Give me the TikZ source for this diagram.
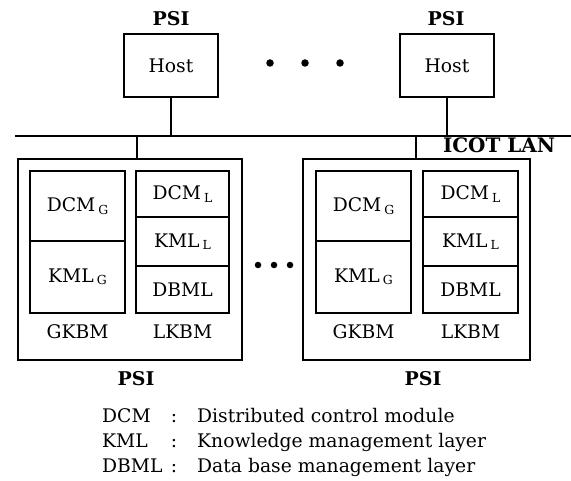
\documentclass[tikz,border=0pt]{standalone}
\usepackage{fontspec}
\setmainfont{DejaVu Serif}
\begin{document}
\begin{tikzpicture}[x=1bp,y=-1bp,
  every node/.style={font=\fontsize{18.8}{20}\selectfont, inner sep=0pt},
  ln/.style={line width=1.8bp},
  cell/.style={draw, line width=1.8bp},
  hostbox/.style={draw, line width=1.8bp, minimum width=94bp, minimum height=63bp},
  outer/.style={draw, line width=1.9bp, minimum height=201bp},
  bold/.style={font=\fontsize{19}{20}\selectfont\bfseries},
  dot/.style={circle, fill=black, minimum size=7.5bp, inner sep=0pt}]
\useasboundingbox (0,0) rectangle (571,481);
\newcommand{\subG}[1]{\kern3bp\raisebox{-2.5bp}{\fontsize{12.5}{13}\selectfont #1}}
% top hosts
\node[bold] (psi1) at (171,19) {PSI};
\node[bold] (psi2) at (446,19) {PSI};
\node[hostbox] (h1) at (171,65.5) {Host};
\node[hostbox] (h2) at (447,65.5) {Host};
\node[dot] (d1) at (270,63) {};
\node[dot] (d2) at (305,63) {};
\node[dot] (d3) at (340,63) {};
% LAN
\coordinate (lanL) at (15,136);
\coordinate (lanR) at (571,136);
\draw[ln] (lanL) -- (lanR);
\node[font=\fontsize{20}{22}\selectfont\bfseries, anchor=base] (lan) at (499,153) {ICOT LAN};
% outer PSI boxes
\node[outer, minimum width=224bp] (o1) at (130,259.5) {};
\node[outer, minimum width=227bp] (o2) at (416.5,259.5) {};
\draw[ln] (h1.south) -- (h1.south |- lanL);
\draw[ln] (h2.south) -- (h2.south |- lanL);
\coordinate (t1) at (137,136);
\coordinate (t2) at (416,136);
\draw[ln] (t1) -- (t1 |- o1.north);
\draw[ln] (t2) -- (t2 |- o2.north);
% left inner
\node[cell, minimum width=95bp, minimum height=70bp] (g1a) at (77.5,206) {DCM\subG{G}};
\node[cell, minimum width=95bp, minimum height=72bp] (g1b) at (77.5,277) {KML\subG{G}};
\node[cell, minimum width=93bp, minimum height=46bp] (l1a) at (182.5,194) {DCM\subG{L}};
\node[cell, minimum width=93bp, minimum height=49bp] (l1b) at (182.5,241.5) {KML\subG{L}};
\node[cell, minimum width=93bp, minimum height=47bp] (l1c) at (182.5,289.5) {DBML};
\node (gk1) at (77.5,332) {GKBM};
\node (lk1) at (182.5,332) {LKBM};
% right inner
\node[cell, minimum width=95bp, minimum height=70bp] (g2a) at (363.5,206) {DCM\subG{G}};
\node[cell, minimum width=95bp, minimum height=72bp] (g2b) at (363.5,277) {KML\subG{G}};
\node[cell, minimum width=95bp, minimum height=46bp] (l2a) at (470.5,194) {DCM\subG{L}};
\node[cell, minimum width=95bp, minimum height=49bp] (l2b) at (470.5,241.5) {KML\subG{L}};
\node[cell, minimum width=95bp, minimum height=47bp] (l2c) at (470.5,289.5) {DBML};
\node (gk2) at (363.5,332) {GKBM};
\node (lk2) at (470.5,332) {LKBM};
% middle dots
\node[dot, minimum size=6.5bp] (m1) at (258,265) {};
\node[dot, minimum size=6.5bp] (m2) at (274,265) {};
\node[dot, minimum size=6.5bp] (m3) at (290,265) {};
% bottom PSI
\node[bold] (psi3) at (136,379) {PSI};
\node[bold] (psi4) at (423,379) {PSI};
% legend
\node[anchor=base west] (k1) at (102,422) {DCM};
\node[anchor=base west] (k2) at (102,447) {KML};
\node[anchor=base west] (k3) at (102,472) {DBML};
\node[anchor=base] (c1) at (174,422) {:};
\node[anchor=base] (c2) at (174,447) {:};
\node[anchor=base] (c3) at (174,472) {:};
\node[anchor=base west] (e1) at (197,422) {Distributed control module};
\node[anchor=base west] (e2) at (197,447) {Knowledge management layer};
\node[anchor=base west] (e3) at (197,472) {Data base management layer};
\end{tikzpicture}
\end{document}
